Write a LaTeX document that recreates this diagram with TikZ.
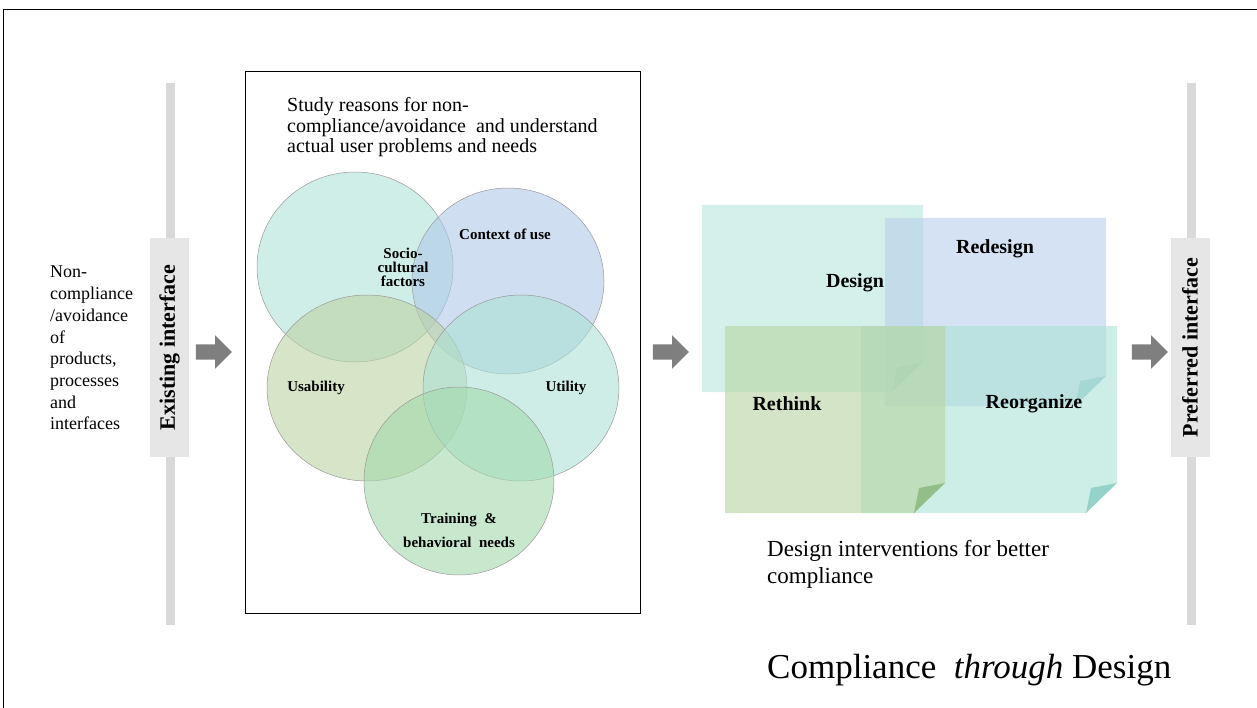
\documentclass[tikz,border=0pt]{standalone}
\usepackage{fontspec}
\setmainfont{Liberation Serif}
\usepackage{tikz}
\usetikzlibrary{shapes.arrows}

\definecolor{barline}{RGB}{217,217,217}
\definecolor{barbox}{RGB}{231,230,230}
\definecolor{arrowgray}{RGB}{127,127,127}
\definecolor{socio}{RGB}{177,227,217}
\definecolor{context}{RGB}{175,200,230}
\definecolor{usab}{RGB}{187,210,163}
\definecolor{util}{RGB}{172,225,213}
\definecolor{train}{RGB}{163,217,172}
\definecolor{design}{RGB}{183,230,220}
\definecolor{redesign}{RGB}{185,207,235}
\definecolor{rethink}{RGB}{182,212,160}
\definecolor{reorg}{RGB}{170,227,213}
\definecolor{designflap}{RGB}{120,195,180}
\definecolor{redesignflap}{RGB}{150,195,205}
\definecolor{rethinkflap}{RGB}{140,185,130}
\definecolor{reorgflap}{RGB}{140,205,195}

% sticky note: x1 y1 x2 y2 fill flap
\newcommand{\stickynote}[6]{%
  \fill[#5, fill opacity=0.6] (#1,#2) -- (#3,#2) -- (#3,#4-30) -- (#3-31,#4) -- (#1,#4) -- cycle;
  \fill[#6, fill opacity=0.85] (#3,#4-30) -- (#3-31,#4) -- (#3-26,#4-25) -- cycle;
}

\begin{document}
\begin{tikzpicture}[x=1pt, y=-1pt,
    barlabel/.style={fill=barbox, rotate=90, inner sep=0pt, minimum width=219pt,
        minimum height=39pt, font=\bfseries\fontsize{22}{24}\selectfont},
    blockarrow/.style={single arrow, fill=arrowgray, draw=none, inner xsep=0pt,
        inner ysep=7.5pt, minimum height=36pt, single arrow head extend=9pt},
    venn/.style={fill opacity=0.6, draw=gray!80, line width=0.5pt},
    vlabel/.style={font=\bfseries\fontsize{15}{14}\selectfont, align=center},
    nlabel/.style={font=\bfseries\fontsize{20}{22}\selectfont}]
    \useasboundingbox (0,0) rectangle (1257,708);

    % outer frame
    \draw[line width=1.8pt] (3.5,9.5) rectangle (1270,720);

    % interface bars
    \coordinate (etop) at (170.5,83);
    \coordinate (ebot) at (170.5,625);
    \coordinate (ptop) at (1191.5,83);
    \coordinate (pbot) at (1191.5,625);
    \draw[barline, line width=9pt] (etop) -- (ebot);
    \draw[barline, line width=9pt] (ptop) -- (pbot);
    \node[barlabel] (exist) at (169.5,347.5) {Existing interface};
    \node[barlabel] (pref) at (1190,347.5) {Preferred interface};

    \node[anchor=north west, inner sep=0pt, align=left,
        font=\fontsize{18}{21.7}\selectfont] (noncomp) at (50,266)
        {Non-\\compliance\\/avoidance\\of\\products,\\processes\\and\\interfaces};

    % arrows
    \foreach \x/\n in {210/arr1, 667/arr2, 1146/arr3}
        \node[blockarrow] (\n) at (\x,352) {};

    % study box
    \draw[line width=0.8pt] (245,71) rectangle (640,613);
    \node[anchor=north west, inner sep=0pt, align=left,
        font=\fontsize{20}{20.5}\selectfont] (study) at (287,97.5)
        {Study reasons for non-\\compliance/avoidance~ and understand\\actual user problems and needs};

    \fill[socio, venn] (355,267) ellipse [x radius=98pt, y radius=95pt];
    \fill[context, venn] (508,281) ellipse [x radius=96pt, y radius=93pt];
    \fill[usab, venn] (367,388) ellipse [x radius=100pt, y radius=93pt];
    \fill[util, venn] (521,388) ellipse [x radius=98pt, y radius=93pt];
    \fill[train, venn] (459,481) ellipse [x radius=95pt, y radius=94pt];

    \node[vlabel] (soc) at (403,267) {Socio-\\cultural\\factors};
    \node[vlabel] (ctx) at (505,234) {Context of use};
    \node[vlabel] (usa) at (316,388) {Usability};
    \node[vlabel] (uti) at (566,388) {Utility};
    \node[vlabel, font=\bfseries\fontsize{15}{24}\selectfont] (trn) at (459,530)
        {Training~ \&\\behavioral~ needs};

    % design notes
    \stickynote{702}{205}{923}{392}{design}{designflap}
    \stickynote{885}{218}{1106}{406}{redesign}{redesignflap}
    \stickynote{861}{326}{1117}{513}{reorg}{reorgflap}
    \stickynote{725}{326}{945}{513}{rethink}{rethinkflap}

    \node[nlabel] (des) at (855,283) {Design};
    \node[nlabel] (rdes) at (995,249) {Redesign};
    \node[nlabel] (rth) at (787,404) {Rethink};
    \node[nlabel] (reo) at (1034,404) {Reorganize};

    \node[anchor=north west, inner sep=0pt, align=left,
        font=\fontsize{23}{27}\selectfont] (interv) at (767,540)
        {Design interventions for better\\compliance};

    \node[anchor=base west, inner sep=0pt, font=\fontsize{35}{40}\selectfont]
        (title) at (767,678) {Compliance~ \textit{through} Design};
\end{tikzpicture}
\end{document}
